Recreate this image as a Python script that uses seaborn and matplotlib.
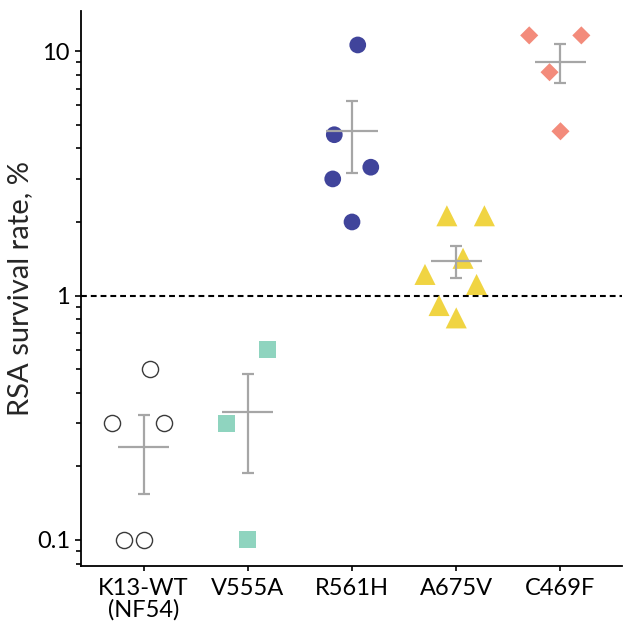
import matplotlib
matplotlib.use("Agg")
import matplotlib.pyplot as plt
import seaborn as sns
import numpy as np
import pandas as pd

# RSA survival per parasite line (%); WT values below the detection limit are drawn at the limit
groups = ["K13-WT\n(NF54)", "V555A", "R561H", "A675V", "C469F"]
wt_vals = [0.5, 0.3, 0.3, 0.05, 0.05]
v555a_vals = [0.3, 0.6, 0.1]
r561h_vals = [10.6, 4.55, 3.35, 3.0, 2.0]
a675v_vals = [2.12, 2.12, 1.42, 1.22, 1.11, 0.91, 0.81]
c469f_vals = [11.6, 11.6, 8.2, 4.7]
detection_limit = 0.1

# horizontal scatter of the dots inside each group (category units)
jitter = [
    [0.06, -0.30, 0.20, -0.185, 0.0],
    [-0.20, 0.19, 0.0],
    [0.055, -0.17, 0.18, -0.185, 0.0],
    [-0.09, 0.27, 0.065, -0.30, 0.195, -0.165, 0.0],
    [-0.30, 0.20, -0.105, 0.0],
]

all_vals = [wt_vals, v555a_vals, r561h_vals, a675v_vals, c469f_vals]
colors = ["white", "#8fd4bf", "#40449b", "#f0d442", "#f38b7b"]
markers = ["o", "s", "o", "^", "D"]
sizes = [135, 150, 145, 230, 85]

rows = []
for i, (g, vals) in enumerate(zip(groups, all_vals)):
    for v, dx in zip(vals, jitter[i]):
        rows.append({"group": g, "idx": i, "pos": i + dx, "value": v,
                     "shown": max(v, detection_limit)})
df = pd.DataFrame(rows)

sns.set_style("ticks")
plt.rcParams["font.family"] = ["Lato", "DejaVu Sans"]

fig = plt.figure(figsize=(6.27, 6.27), dpi=100)
ax = fig.add_axes([0.1292, 0.0968, 0.8628, 0.8857])

ax.set_yscale("log")

for i, g in enumerate(groups):
    sub = df[df["group"] == g]
    if i == 0:
        sns.scatterplot(data=sub, x="pos", y="shown", ax=ax, marker="o", s=sizes[i],
                        facecolor="white", edgecolor="#3a3a3a", linewidth=1.0, zorder=2)
    else:
        sns.scatterplot(data=sub, x="pos", y="shown", ax=ax, marker=markers[i], s=sizes[i],
                        color=colors[i], edgecolor="none", linewidth=0, zorder=2)

# mean +/- SEM
stats = df.groupby("idx")["value"].agg(["mean", "sem"]).reset_index()
ax.errorbar(stats["idx"], stats["mean"], yerr=stats["sem"], fmt="none",
            ecolor="#a6a6a6", elinewidth=1.6, capsize=4, capthick=1.6, zorder=3)
ax.hlines(stats["mean"], stats["idx"] - 0.245, stats["idx"] + 0.245,
          color="#a6a6a6", linewidth=1.6, zorder=3)

ax.axhline(1, color="black", linewidth=1.5, linestyle=(0, (2.8, 1.9)), zorder=1)

ax.set_xlim(-0.6, 4.59)
ax.set_ylim(0.078, 14.6)
ax.set_xticks(range(len(groups)))
ax.set_xticklabels(groups, linespacing=1.0)
ax.set_yticks([0.1, 1, 10])
ax.set_yticklabels(["0.1", "1", "10"])
ax.yaxis.set_minor_locator(matplotlib.ticker.LogLocator(base=10, subs=np.arange(2, 10)))
ax.yaxis.set_minor_formatter(matplotlib.ticker.NullFormatter())

ax.set_xlabel("")
ax.set_ylabel("RSA survival rate, %", fontsize=21, labelpad=3)
ax.tick_params(axis="both", which="major", labelsize=17, length=4, width=1.2, color="black",
               labelcolor="black", pad=4)
ax.tick_params(axis="y", which="minor", length=3.5, width=1.2, color="black")
ax.tick_params(axis="x", length=3.5, pad=5)

sns.despine(ax=ax)
for side in ["left", "bottom"]:
    ax.spines[side].set_linewidth(1.3)
    ax.spines[side].set_color("black")

fig.savefig("out.png", dpi=100)
